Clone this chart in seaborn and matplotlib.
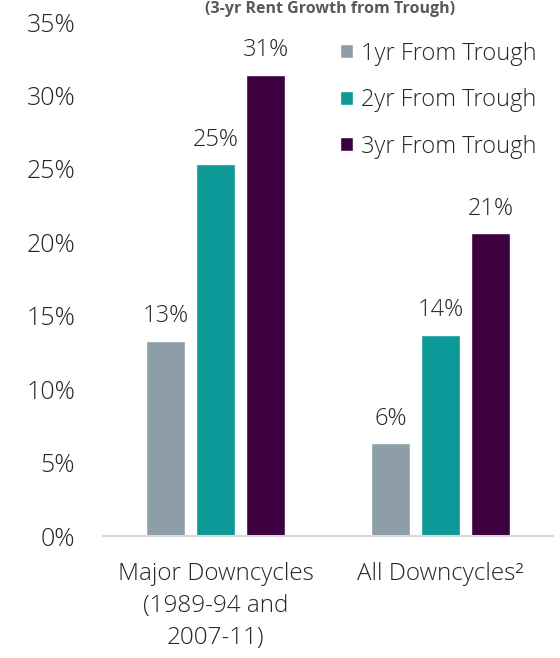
import matplotlib
matplotlib.use("Agg")
import matplotlib.pyplot as plt
import seaborn as sns
import pandas as pd

categories = ["Major Downcycles\n(1989-94 and\n2007-11)", "All Downcycles²"]
series = ["1yr From Trough", "2yr From Trough", "3yr From Trough"]
vals_1yr = [13.3, 6.3]
vals_2yr = [25.3, 13.7]
vals_3yr = [31.4, 20.6]
labels_1yr = ["13%", "6%"]
labels_2yr = ["25%", "14%"]
labels_3yr = ["31%", "21%"]
yticks = [0, 5, 10, 15, 20, 25, 30, 35]
title = "(3-yr Rent Growth from Trough)"

colors = ["#8D9EA9", "#0E9999", "#3D0041"]
txt = "#262626"

rows = []
for s, vals in zip(series, [vals_1yr, vals_2yr, vals_3yr]):
    for c, v in zip(categories, vals):
        rows.append({"cat": c, "series": s, "val": v})
df = pd.DataFrame(rows)

sns.set_theme(style="white")
plt.rcParams["font.family"] = ["Open Sans", "DejaVu Sans"]
plt.rcParams["font.weight"] = "light"

fig = plt.figure(figsize=(5.6, 6.58), dpi=100)
ax = fig.add_axes([103/560, 1 - 536/658, 450/560, 514/658])

sns.barplot(data=df, x="cat", y="val", hue="series", palette=colors,
            width=0.667, gap=0.22, ax=ax, saturation=1, legend=True)

for cont, labs in zip(ax.containers, [labels_1yr, labels_2yr, labels_3yr]):
    ax.bar_label(cont, labels=labs, padding=9, fontsize=17, color=txt)

ax.set_xlim(-0.5, 1.5)
ax.set_ylim(0, 35)
ax.set_yticks(yticks)
ax.set_yticklabels([f"{t}%" for t in yticks], fontsize=18, color=txt)
ax.tick_params(axis="x", labelsize=17.5, colors=txt, length=0, pad=19)
ax.tick_params(axis="y", length=0, pad=20)
for lbl in ax.get_xticklabels():
    lbl.set_linespacing(1.42)
ax.set_xlabel("")
ax.set_ylabel("")
for sp in ["top", "right", "left"]:
    ax.spines[sp].set_visible(False)
ax.spines["bottom"].set_color("#D9D9D9")
ax.spines["bottom"].set_linewidth(1.5)

leg = ax.legend(loc="upper right", bbox_to_anchor=(0.985, 0.98), frameon=False,
                fontsize=17, handlelength=0.55, handleheight=0.55,
                handletextpad=0.35, labelspacing=0.95, borderaxespad=0)
for t in leg.get_texts():
    t.set_color(txt)

fig.text(0.59, 0.999, title, ha="center", va="top", fontsize=11.5,
         fontweight="bold", color="#595959")

fig.savefig("out.png", dpi=100)
